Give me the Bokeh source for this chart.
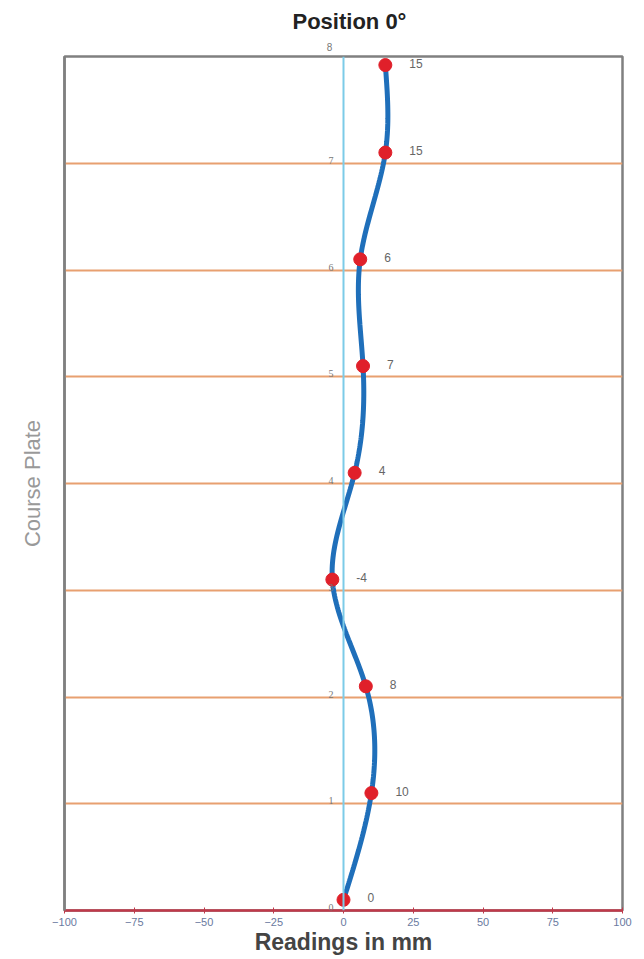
import numpy as np
from bokeh.plotting import figure
from bokeh.models import Range1d, FixedTicker, ColumnDataSource, Span, LabelSet, LinearAxis
from bokeh.core.properties import value
from bokeh.embed import file_html
from bokeh.resources import INLINE

# data
plates = [0.1, 1.1, 2.1, 3.1, 4.1, 5.1, 6.1, 7.1, 7.92]
readings = [0, 10, 8, -4, 4, 7, 6, 15, 15]
reading_labels = ["0", "10", "8", "-4", "4", "7", "6", "15", "15"]
x_ticks = [-100, -75, -50, -25, 0, 25, 50, 75, 100]
y_ticks = [0, 1, 2, 3, 4, 5, 6, 7]
y_tick_labels = ["0", "1", "2", "3", "4", "5", "6", "7"]
y_top_label = "8"

# natural cubic spline x(y) for the smoothed line
def natural_spline(t, v, n=40):
    t = np.asarray(t, float); v = np.asarray(v, float)
    k = len(t)
    h = np.diff(t)
    A = np.zeros((k, k)); b = np.zeros(k)
    A[0, 0] = 1; A[-1, -1] = 1
    for i in range(1, k - 1):
        A[i, i - 1] = h[i - 1]; A[i, i] = 2 * (h[i - 1] + h[i]); A[i, i + 1] = h[i]
        b[i] = 6 * ((v[i + 1] - v[i]) / h[i] - (v[i] - v[i - 1]) / h[i - 1])
    M = np.linalg.solve(A, b)
    ts, vs = [], []
    for i in range(k - 1):
        tt = np.linspace(t[i], t[i + 1], n)
        a = t[i + 1] - tt; c = tt - t[i]
        vv = (M[i] * a**3 + M[i + 1] * c**3) / (6 * h[i]) + \
             (v[i] / h[i] - M[i] * h[i] / 6) * a + (v[i + 1] / h[i] - M[i + 1] * h[i] / 6) * c
        ts.extend(tt); vs.extend(vv)
    return np.array(ts), np.array(vs)

sy, sx = natural_spline(plates, readings)

p = figure(width=640, height=957, output_backend="svg", toolbar_location=None,
           x_range=Range1d(-100, 100), y_range=Range1d(0, 8),
           min_border_left=64, min_border_right=18, min_border_top=56, min_border_bottom=47)
p.title.text = "Position 0°"
p.title.align = "left"
p.title.offset = 228
p.title.text_font = "Liberation Sans"
p.title.text_font_size = "22px"
p.title.text_font_style = "bold"
p.title.text_color = "#222222"
p.title.standoff = 12

p.outline_line_color = "#808080"
p.outline_line_width = 2.5
p.background_fill_color = "white"
p.border_fill_color = "white"

p.xgrid.visible = False
p.ygrid.ticker = FixedTicker(ticks=[1, 2, 3, 4, 5, 6, 7])
p.ygrid.grid_line_color = "#e8a070"
p.ygrid.grid_line_width = 2

xa = p.xaxis[0]
xa.ticker = FixedTicker(ticks=x_ticks)
xa.axis_line_color = "#c0394a"
xa.axis_line_width = 2.5
xa.major_tick_line_color = "#c0394a"
xa.major_tick_in = 3
xa.major_tick_out = 3
xa.minor_tick_line_color = None
xa.major_label_text_font = "Liberation Sans"
xa.major_label_text_font_size = "11px"
xa.major_label_text_color = "#6a7aa0"
xa.major_label_standoff = 4
xa.axis_label = "Readings in mm"
xa.axis_label_text_font = "Liberation Sans"
xa.axis_label_text_font_size = "23px"
xa.axis_label_text_font_style = "bold"
xa.axis_label_text_color = "#444444"
xa.axis_label_standoff = 0

ya = p.yaxis[0]
ya.ticker = FixedTicker(ticks=y_ticks)
ya.axis_line_color = "#808080"
ya.axis_line_width = 2.5
ya.major_tick_line_color = None
ya.minor_tick_line_color = None
ya.major_label_text_color = None
ya.major_label_text_font_size = "1px"
ya.axis_label = "Course Plate"
ya.axis_label_text_font = "Liberation Sans"
ya.axis_label_text_font_size = "22px"
ya.axis_label_text_font_style = "normal"
ya.axis_label_text_color = "#999999"
ya.axis_label_standoff = 14

# top "8" label of the y scale sits just above the frame, left of x = 0
p.extra_x_ranges = {"lab8": Range1d(-95, 105)}
top = LinearAxis(x_range_name="lab8", ticker=FixedTicker(ticks=[0]),
                 major_label_overrides={0: y_top_label},
                 axis_line_color=None, major_tick_line_color=None, minor_tick_line_color=None,
                 major_label_standoff=0, major_label_text_font="Liberation Sans",
                 major_label_text_font_size="10px", major_label_text_color="#777777")
p.add_layout(top, "above")

p.add_layout(Span(location=0, dimension="height", line_color="#7ccbe8", line_width=2))

# y tick labels drawn at x = 0
ysrc = ColumnDataSource(dict(x=[0] * len(y_ticks), y=y_ticks, t=y_tick_labels))
p.add_layout(LabelSet(x="x", y="y", text="t", source=ysrc, x_offset=-10, y_offset=3,
                      text_align="right", text_baseline="middle", level="overlay",
                      text_font="Liberation Sans", text_font_size="10px",
                      text_color="#777777"))

p.line(sx, sy, line_color="#1f6fba", line_width=5)
src = ColumnDataSource(dict(x=readings, y=plates, t=reading_labels))
p.scatter("x", "y", source=src, size=13, fill_color="#e0202a", line_color="#e0202a")
p.text("x", "y", text="t", source=src, x_offset=24, y_offset=-2,
       text_align="left", text_baseline="middle",
       text_font=value("Liberation Sans"), text_font_size="12px", text_color="#666666")

open("out.html", "w").write(file_html(p, INLINE))
